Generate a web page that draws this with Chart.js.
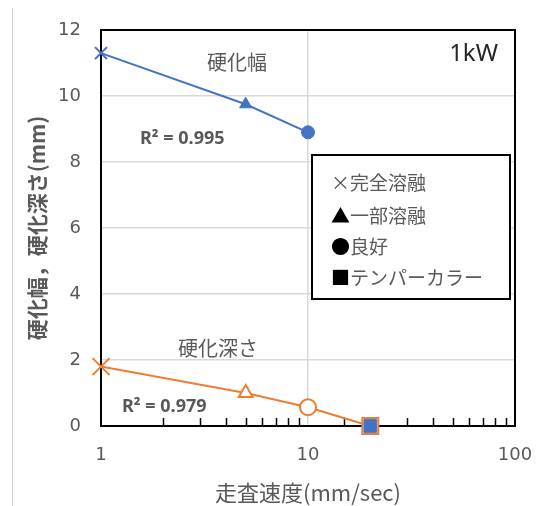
<!DOCTYPE html>
<html>
<head>
<meta charset="utf-8">
<script src="https://cdn.jsdelivr.net/npm/chart.js@4/dist/chart.umd.min.js"></script>
<style>
  html, body { margin: 0; padding: 0; background: #fff; }
  #wrap { position: relative; width: 543px; height: 506px; overflow: hidden; }
  #edge { position: absolute; left: 12px; top: 8px; width: 1px; height: 498px; background: #d4d4d4; }
  canvas { position: absolute; left: 0; top: 0; }
</style>
</head>
<body>
<div id="wrap"><div id="edge"></div><canvas id="chart" width="543" height="506"></canvas></div>
<script>
const speeds = [1, 5, 10, 20];
const widthValues = [11.3, 9.75, 8.9, 0];
const depthValues = [1.8, 1.0, 0.57, 0];
const xTickLabels = [1, 10, 100];
const legendSymbols = ['×', '▲', '●', '■'];
const legendTexts = ['完全溶融', '一部溶融', '良好', 'テンパーカラー'];

const BLUE = '#4472C4';
const ORANGE = '#ED7D31';
const GRID = '#d9d9d9';
const TEXT = '#595959';
const JP = '"Noto Sans CJK JP", "Noto Sans", sans-serif';

const markers = ['crossRot', 'triangle', 'circle', 'rect'];

const toPoints = vals => speeds.map((s, i) => ({ x: s, y: vals[i] }));

// text boxes, legend box, frame and inner minor ticks
const overlay = {
  id: 'overlay',
  beforeDatasetsDraw(chart) {
    const { ctx, chartArea: a, scales: { x } } = chart;
    ctx.save();
    ctx.strokeStyle = '#000';
    ctx.lineWidth = 1.5;
    x.ticks.forEach(t => {
      if (xTickLabels.includes(t.value)) return;
      const px = Math.round(x.getPixelForValue(t.value)) + 0.5;
      ctx.beginPath();
      ctx.moveTo(px, a.bottom);
      ctx.lineTo(px, a.bottom - 8);
      ctx.stroke();
    });
    ctx.lineWidth = 2;
    ctx.strokeRect(a.left, a.top, a.right - a.left, a.bottom - a.top);
    ctx.restore();
  },
  afterDraw(chart) {
    const { ctx } = chart;
    ctx.save();
    ctx.textBaseline = 'middle';

    ctx.fillStyle = TEXT;
    ctx.textAlign = 'center';
    ctx.font = '20px ' + JP;
    ctx.fillText('硬化幅', 237, 62);
    ctx.fillText('硬化深さ', 218, 348);

    ctx.textAlign = 'left';
    ctx.font = 'bold 18px "Noto Sans", sans-serif';
    ctx.fillText('R² = 0.995', 140, 139);
    ctx.fillText('R² = 0.979', 122, 407);

    ctx.fillStyle = '#262626';
    ctx.textAlign = 'right';
    ctx.font = '24px "Noto Sans", sans-serif';
    ctx.fillText('1kW', 498, 54);

    // legend text box
    const bx = 312, by = 155, bw = 198, bh = 144;
    ctx.fillStyle = '#fff';
    ctx.fillRect(bx, by, bw, bh);
    ctx.strokeStyle = '#000';
    ctx.lineWidth = 2;
    ctx.strokeRect(bx, by, bw, bh);

    ctx.textAlign = 'left';
    ctx.font = '19px ' + JP;
    const rows = [183, 216, 247, 278];
    legendTexts.forEach((t, i) => {
      const sym = legendSymbols[i];
      ctx.fillStyle = i === 0 ? TEXT : '#000';
      ctx.fillText(sym, 331, rows[i]);
      const w = ctx.measureText(sym).width;
      ctx.fillStyle = TEXT;
      ctx.fillText(t, 331 + w, rows[i]);
    });
    ctx.restore();
  }
};

new Chart(document.getElementById('chart'), {
  type: 'line',
  data: {
    datasets: [
      {
        label: '硬化幅',
        data: toPoints(widthValues),
        borderColor: BLUE,
        backgroundColor: BLUE,
        borderWidth: 2,
        pointStyle: markers,
        pointRadius: [8.5, 7, 6.5, 9],
        pointBorderWidth: [2, 1, 1, 1],
        pointBorderColor: BLUE,
        pointBackgroundColor: BLUE,
        segment: { borderColor: c => c.p1DataIndex === 3 ? 'rgba(0,0,0,0)' : BLUE },
        tension: 0,
        clip: false
      },
      {
        label: '硬化深さ',
        data: toPoints(depthValues),
        borderColor: ORANGE,
        backgroundColor: '#fff',
        borderWidth: 2,
        pointStyle: markers,
        pointRadius: [12, 8, 8, 11.3],
        pointBorderWidth: 2,
        pointBorderColor: ORANGE,
        pointBackgroundColor: '#fff',
        tension: 0,
        clip: false
      }
    ]
  },
  options: {
    responsive: false,
    animation: false,
    events: [],
    layout: { padding: { top: 30, right: 28, left: 0, bottom: 0 } },
    plugins: { legend: { display: false }, tooltip: { enabled: false } },
    scales: {
      x: {
        type: 'logarithmic',
        min: 1,
        max: 100,
        afterFit: s => { s.height = 80; s.paddingLeft = 0; s.paddingRight = 0; },
        border: { color: '#000', width: 2 },
        grid: {
          drawTicks: false,
          color: c => (c.tick && xTickLabels.includes(c.tick.value)) ? GRID : 'rgba(0,0,0,0)',
          lineWidth: 1.5
        },
        ticks: {
          autoSkip: false,
          maxRotation: 0,
          padding: 19,
          color: TEXT,
          font: { family: '"DejaVu Sans", sans-serif', size: 18 },
          callback: v => xTickLabels.includes(v) ? String(v) : ''
        },
        title: {
          display: true,
          text: '走査速度(mm/sec)',
          color: TEXT,
          font: { family: JP, size: 22 },
          padding: { top: 0, bottom: 0 }
        }
      },
      y: {
        min: 0,
        max: 12,
        afterFit: s => { s.width = 101; s.paddingTop = 0; s.paddingBottom = 0; },
        border: { color: '#000', width: 2 },
        grid: { drawTicks: false, color: GRID, lineWidth: 1.5 },
        ticks: {
          stepSize: 2,
          padding: 20,
          color: TEXT,
          font: { family: '"DejaVu Sans", sans-serif', size: 18 }
        },
        title: {
          display: true,
          text: '硬化幅，硬化深さ(mm)',
          color: TEXT,
          font: { family: JP, size: 21, weight: 'bold' },
          padding: { top: 24, bottom: 0 }
        }
      }
    }
  },
  plugins: [overlay]
});
</script>
</body>
</html>
